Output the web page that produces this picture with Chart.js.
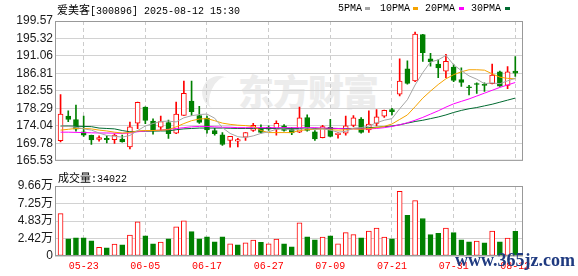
<!DOCTYPE html>
<html>
<head>
<meta charset="utf-8">
<script src="https://cdn.jsdelivr.net/npm/chart.js@4.4.1/dist/chart.umd.min.js"></script>
<style>
  html, body { margin: 0; padding: 0; background: #fff; }
  #wrap { position: relative; width: 578px; height: 276px; overflow: hidden; }
  canvas { position: absolute; left: 0; z-index: 2; }
  #price { top: 0; }
  #vol { top: 170px; }
  .t { position: absolute; white-space: nowrap; font-family: "Liberation Mono", monospace; font-size: 10px; line-height: 12px; color: #000; z-index: 3; }
  .cjk { font-family: "Noto Sans CJK SC", sans-serif; font-size: 11px; }
  .sw { position: absolute; width: 5px; height: 3px; z-index: 3; }
  #wm { position: absolute; left: 238px; top: 70px; font-family: "Noto Sans CJK SC", sans-serif; font-weight: 900;
        font-size: 36px; line-height: 40px; color: #ececec; z-index: 1; letter-spacing: -1px; }
  #logo { position: absolute; left: 202px; top: 76px; width: 26px; height: 34px; border-radius: 50%;
          border-left: 9px solid #ececec; transform: rotate(25deg); z-index: 1; }
  #site { position: absolute; left: 455px; top: 250px; font-family: "Liberation Serif", serif; font-weight: bold;
          font-size: 18px; color: #1f3a80; z-index: 4; }
</style>
</head>
<body>
<div id="wrap">
  <div id="logo"></div>
  <div id="wm">东方财富</div>
  <canvas id="price" width="578" height="170"></canvas>
  <canvas id="vol" width="578" height="106"></canvas>
  <div class="t" style="left:57px;top:3px"><span class="cjk">爱美客</span>[300896] 2025-08-12 15:30</div>
  <div class="t" style="left:338px;top:3px">5PMA</div><div class="sw" style="left:365px;top:7px;background:#a6a6a6"></div>
  <div class="t" style="left:380px;top:3px">10PMA</div><div class="sw" style="left:413px;top:7px;background:#f5a300"></div>
  <div class="t" style="left:425px;top:3px">20PMA</div><div class="sw" style="left:459px;top:7px;background:#ff00ff"></div>
  <div class="t" style="left:471px;top:3px">30PMA</div><div class="sw" style="left:505px;top:7px;background:#006a30"></div>
  <div class="t" style="left:58px;top:171px"><span class="cjk">成交量</span>:34022</div>
  <div id="site">www.365jz.com</div>
</div>
<script>
const dates = ['05-20','05-21','05-22','05-23','05-26','05-27','05-28','05-29','05-30','06-03',
  '06-04','06-05','06-06','06-09','06-10','06-11','06-12','06-13','06-16','06-17',
  '06-18','06-19','06-20','06-23','06-24','06-25','06-26','06-27','06-30','07-01',
  '07-02','07-03','07-04','07-07','07-08','07-09','07-10','07-11','07-14','07-15',
  '07-16','07-17','07-18','07-21','07-22','07-23','07-24','07-25','07-28','07-29',
  '07-30','07-31','08-01','08-04','08-05','08-06','08-07','08-08','08-11','08-12'];

const openP = [170.45,176.40,175.59,172.59,171.71,170.76,171.00,170.69,170.83,168.93,
  174.69,178.62,175.21,173.69,174.81,172.26,176.55,180.05,176.55,175.93,
  172.90,171.88,170.52,170.33,171.31,172.90,173.45,173.69,173.21,174.02,
  173.20,172.50,176.07,172.59,171.16,173.69,171.88,172.26,174.17,175.69,
  173.07,174.64,176.40,178.00,181.78,187.90,184.97,196.24,190.36,189.09,
  187.36,188.38,185.28,183.55,184.33,184.17,184.33,187.19,183.86,187.36];
const highP = [181.64,177.67,179.09,176.40,171.80,171.64,171.64,172.12,171.78,174.98,
  179.80,178.70,175.76,176.40,175.45,179.81,184.97,184.97,178.78,176.40,
  173.45,172.43,171.50,171.00,172.43,174.64,174.26,174.02,175.29,174.33,
  173.60,178.62,176.71,172.90,174.17,175.60,172.43,176.40,176.55,176.07,
  177.67,178.00,177.90,178.30,190.36,189.88,196.88,196.30,191.71,190.12,
  191.47,188.93,188.14,183.93,184.50,184.50,189.09,187.36,188.45,190.93];
const lowP = [170.12,175.05,172.74,171.47,169.50,170.33,169.88,169.74,170.05,168.45,
  173.38,174.57,172.02,172.90,171.00,172.12,176.55,176.55,174.64,172.26,
  171.78,169.26,168.86,168.93,170.52,172.66,172.26,172.90,171.78,172.74,
  171.90,172.40,172.74,170.52,171.10,171.35,171.07,171.78,173.86,172.26,
  172.43,174.02,176.07,176.70,181.31,184.17,184.80,189.74,188.55,185.76,
  185.76,184.81,183.62,181.55,181.95,182.43,184.26,183.62,183.07,186.07];
const closeP = [176.88,175.59,173.21,171.78,170.59,171.16,170.69,171.78,170.12,173.78,
  179.74,175.36,172.90,175.05,172.12,176.88,181.95,177.50,174.88,173.07,
  172.12,169.50,171.47,170.69,172.43,174.17,172.43,173.21,174.64,172.90,
  172.30,176.00,172.90,170.83,173.86,171.47,172.26,174.02,176.00,172.43,
  174.50,176.24,177.83,177.50,184.97,184.40,196.40,191.88,189.64,188.14,
  189.74,185.12,184.64,183.31,184.10,183.86,186.40,183.69,187.19,186.88];

const ma5 = [174.0,173.9,173.7,173.3,173.0,172.3,171.7,171.5,171.3,171.7,
  172.9,174.0,174.6,175.1,175.2,175.0,176.0,176.5,176.8,176.9,
  175.9,173.6,172.2,171.4,171.2,171.6,172.2,172.6,173.2,173.3,
  173.0,173.2,173.5,173.2,173.3,173.0,172.5,172.7,173.5,173.6,
  174.0,174.8,175.4,175.8,178.2,180.4,184.0,187.0,189.6,190.1,
  191.2,188.9,187.5,186.2,185.4,184.3,184.5,184.3,185.0,185.6];
const ma10 = [173.0,173.2,173.4,173.4,173.3,173.0,172.8,172.5,172.3,172.4,
  172.8,172.9,172.9,173.0,173.1,173.8,174.6,175.3,175.7,175.8,
  175.3,174.7,174.4,174.2,174.1,173.9,172.9,172.4,172.4,172.4,
  172.4,172.9,173.1,173.2,173.3,173.1,173.0,173.1,173.3,173.2,
  173.4,173.6,173.9,174.5,175.6,176.7,178.7,180.8,182.5,184.1,
  185.5,186.5,187.2,187.7,187.7,187.6,186.7,185.9,185.6,185.5];
const ma20 = [172.5,172.5,172.45,172.4,172.35,172.3,172.3,172.25,172.2,172.3,
  172.6,172.8,172.9,173.0,173.2,173.4,173.6,173.8,173.9,173.9,
  173.8,173.7,173.7,173.6,173.6,173.6,173.6,173.6,173.6,173.6,
  173.6,173.6,173.6,173.6,173.5,173.5,173.4,173.3,173.3,173.3,
  173.3,173.4,173.6,173.9,174.3,174.8,175.4,176.1,176.9,177.7,
  178.6,179.4,180.0,180.6,181.3,182.0,182.7,183.4,184.0,184.6];
const ma30 = [174.0,174.0,173.95,173.9,173.85,173.5,173.4,173.3,172.9,172.6,
  172.7,172.75,172.75,172.8,172.8,173.1,173.3,173.4,173.5,173.5,
  173.5,173.5,173.45,173.4,173.4,173.4,173.4,173.4,173.4,173.4,
  173.4,173.4,173.4,173.4,173.4,173.4,173.4,173.4,173.4,173.4,
  173.6,173.7,173.85,174.0,174.3,174.7,175.1,175.4,175.8,176.2,
  176.7,177.3,177.8,178.2,178.5,178.9,179.3,179.8,180.3,180.8];

const volume = [58400,23800,25200,25200,21000,12100,11200,16300,15400,29000,
  47100,28000,16800,19100,23800,40100,48500,33600,23800,26600,
  19600,26600,16800,15400,18200,22000,18700,16800,23300,16800,
  12600,45700,26600,22400,26100,28000,16800,32200,29400,25200,
  34500,38700,26100,23800,89100,56000,76500,51800,29400,31300,
  38700,32200,22400,19600,20500,18200,34500,19600,24700,34022];

const priceTicks = [165.53,169.78,174.04,178.29,182.55,186.81,191.06,195.32,199.57];
const volTicks = [0,24150,48300,72450,96600];
const volTickLabels = ['0','2.42万','4.83万','7.25万','9.66万'];
const labelIdx = [3,11,19,27,35,43,51,59];

const RED = '#ff0000', GREEN = '#008000';
const idx = dates.map((d, i) => i);
// candle colour: close vs open; volume colour: close vs previous close
const up = idx.map(i => closeP[i] >= openP[i]);
const volUp = idx.map(i => i === 0 ? up[0] : closeP[i] >= closeP[i - 1]);

const frame = {
  id: 'frame',
  afterDatasetsDraw(chart) {
    const { ctx, chartArea: a } = chart;
    ctx.save();
    ctx.strokeStyle = '#999';
    ctx.lineWidth = 1;
    ctx.strokeRect(a.left + 0.5, a.top + 0.5, a.right - a.left - 1, a.bottom - a.top - 1);
    ctx.restore();
  }
};

function xScale(showLabels, h) {
  return {
    type: 'linear', min: -0.72, max: 60.0, offset: false,
    afterBuildTicks: s => { s.ticks = labelIdx.map(v => ({ value: v })); },
    afterFit: s => { s.height = h; },
    grid: { color: '#cccccc', drawTicks: false, offset: false },
    border: { display: false, dash: [4, 3] },
    ticks: {
      display: showLabels, color: RED, padding: 4, maxRotation: 0, autoSkip: false,
      font: { family: '"Liberation Mono", monospace', size: 10 },
      callback: v => dates[v]
    }
  };
}

function yFont() {
  return { family: '"Liberation Sans", Arial, "Noto Sans CJK SC"', size: 12 };
}

const lineSet = (data, color) => ({
  type: 'line', data: idx.map(i => ({ x: i, y: data[i] })),
  borderColor: color, borderWidth: 1, pointRadius: 0, tension: 0, fill: false, order: 0
});

new Chart(document.getElementById('price'), {
  type: 'bar',
  data: {
    datasets: [
      lineSet(ma5, '#a6a6a6'),
      lineSet(ma10, '#f5a300'),
      lineSet(ma20, '#ff00ff'),
      lineSet(ma30, '#006a30'),
      {
        data: idx.map(i => ({ x: i, y: [openP[i], closeP[i]] })),
        backgroundColor: up.map(u => u ? '#ffffff' : GREEN),
        borderColor: up.map(u => u ? RED : GREEN),
        borderWidth: 1, borderSkipped: false, barThickness: 5, minBarLength: 1,
        grouped: false, order: 1
      },
      {
        data: idx.map(i => ({ x: i, y: [lowP[i], highP[i]] })),
        backgroundColor: up.map(u => u ? RED : GREEN),
        borderWidth: 0, barThickness: 1, grouped: false, order: 2
      }
    ]
  },
  options: {
    responsive: false, animation: false, events: [],
    layout: { padding: { top: 21, bottom: 4, left: 0, right: 55 } },
    plugins: { legend: { display: false }, tooltip: { enabled: false } },
    scales: {
      x: xScale(false, 0),
      y: {
        min: 165.53, max: 199.57,
        afterBuildTicks: s => { s.ticks = priceTicks.map(v => ({ value: v })); },
        afterFit: s => { s.width = 55; },
        grid: { color: '#d2d2d2', drawTicks: false },
        border: { display: false },
        ticks: { color: '#1a1a1a', padding: 2, font: yFont(), callback: v => v.toFixed(2) }
      }
    }
  },
  plugins: [frame]
});

new Chart(document.getElementById('vol'), {
  type: 'bar',
  data: {
    datasets: [{
      data: idx.map(i => ({ x: i, y: volume[i] })),
      backgroundColor: volUp.map(u => u ? '#ffffff' : GREEN),
      borderColor: volUp.map(u => u ? RED : GREEN),
      borderWidth: 1, borderSkipped: false, barThickness: 5, grouped: false
    }]
  },
  options: {
    responsive: false, animation: false, events: [],
    layout: { padding: { top: 16, bottom: 0, left: 0, right: 55 } },
    plugins: { legend: { display: false }, tooltip: { enabled: false } },
    scales: {
      x: xScale(true, 20),
      y: {
        min: 0, max: 96600,
        afterBuildTicks: s => { s.ticks = volTicks.map(v => ({ value: v })); },
        afterFit: s => { s.width = 55; },
        grid: { color: '#d2d2d2', drawTicks: false },
        border: { display: false },
        ticks: { color: '#1a1a1a', padding: 2, font: yFont(), callback: (v, k) => volTickLabels[k] }
      }
    }
  },
  plugins: [frame]
});
</script>
</body>
</html>
